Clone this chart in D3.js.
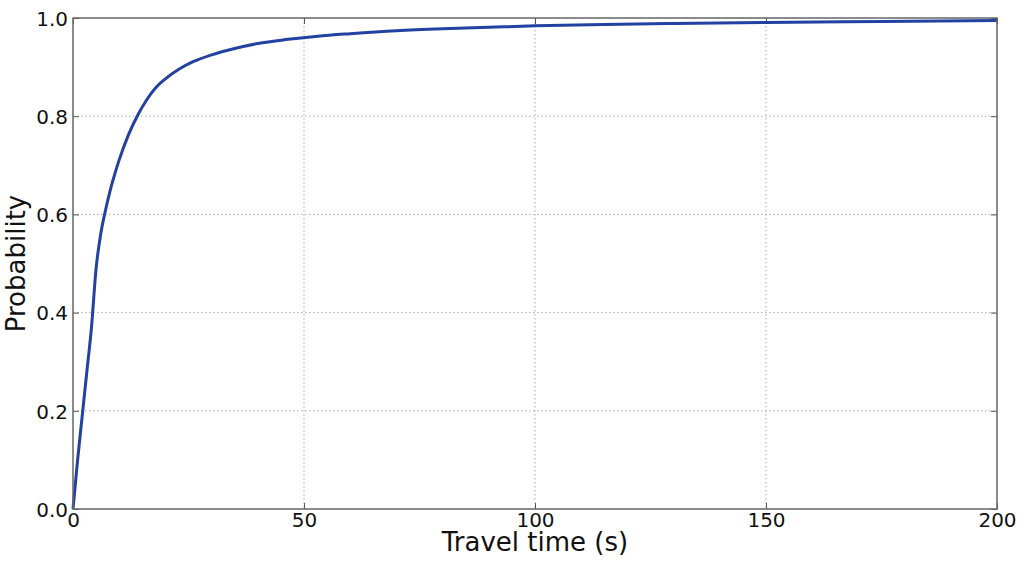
<!DOCTYPE html>
<html>
<head>
<meta charset="utf-8">
<script src="https://cdn.jsdelivr.net/npm/d3@7"></script>
<style>
  html, body { margin: 0; padding: 0; background: #fff; }
  svg { display: block; font-family: "DejaVu Sans", sans-serif; }
</style>
</head>
<body>
<svg id="chart" width="1024" height="567"></svg>
<script>
const travelTimes = [0, 1, 2, 3, 4, 5, 6, 7, 8, 9, 10, 12, 14, 16, 18, 20, 23, 26, 30, 35, 40, 46, 53, 60, 70, 80, 90, 100, 115, 130, 150, 175, 200];
const probabilities = [0, 0.1, 0.19, 0.28, 0.37, 0.49, 0.56, 0.607, 0.647, 0.681, 0.711, 0.762, 0.802, 0.834, 0.859, 0.876, 0.896, 0.911, 0.925, 0.938, 0.948, 0.956, 0.963, 0.968, 0.974, 0.978, 0.981, 0.984, 0.987, 0.989, 0.991, 0.993, 0.995];
const xTicks = [0, 50, 100, 150, 200];
const yTicks = [0.0, 0.2, 0.4, 0.6, 0.8, 1.0];
const xLabel = "Travel time (s)";
const yLabel = "Probability";

const svg = d3.select("#chart");
const m = { left: 73, top: 18, right: 27, bottom: 58 };
const W = 1024, H = 567;
const w = W - m.left - m.right, h = H - m.top - m.bottom;

const x = d3.scaleLinear().domain([0, 200]).range([0, w]);
const y = d3.scaleLinear().domain([0, 1]).range([h, 0]);

const g = svg.append("g").attr("transform", `translate(${m.left},${m.top})`);

// grid
g.append("g").selectAll("line").data(xTicks.filter(d => d > 0 && d < 200)).join("line")
  .attr("x1", d => x(d)).attr("x2", d => x(d)).attr("y1", 0).attr("y2", h)
  .attr("stroke", "#aaa").attr("stroke-width", 1).attr("stroke-dasharray", "1.5,2.5");
g.append("g").selectAll("line").data(yTicks.filter(d => d > 0 && d < 1)).join("line")
  .attr("y1", d => y(d)).attr("y2", d => y(d)).attr("x1", 0).attr("x2", w)
  .attr("stroke", "#aaa").attr("stroke-width", 1).attr("stroke-dasharray", "1.5,2.5");

// axes
const xAxis = g.append("g").attr("transform", `translate(0,${h})`)
  .call(d3.axisBottom(x).tickValues(xTicks).tickFormat(d3.format("d")).tickSizeInner(-6).tickSizeOuter(0).tickPadding(4));
const yAxis = g.append("g")
  .call(d3.axisLeft(y).tickValues(yTicks).tickFormat(d3.format(".1f")).tickSizeInner(-6).tickSizeOuter(0).tickPadding(5));
g.append("g").call(d3.axisTop(x).tickValues(xTicks).tickFormat("").tickSizeInner(-6).tickSizeOuter(0));
g.append("g").attr("transform", `translate(${w},0)`).call(d3.axisRight(y).tickValues(yTicks).tickFormat("").tickSizeInner(-6).tickSizeOuter(0));

svg.selectAll(".domain").remove();
svg.selectAll(".tick line").attr("stroke", "#555");
svg.selectAll(".tick text").attr("font-size", 20).attr("fill", "#111").attr("font-family", "DejaVu Sans, sans-serif");
xAxis.selectAll(".tick text").attr("dy", "0.71em");
yAxis.selectAll(".tick text").attr("dy", "0.36em");

// line
const line = d3.line()
  .x((d, i) => x(travelTimes[i]))
  .y(d => y(d))
  .curve(d3.curveMonotoneX);
g.append("path").datum(probabilities)
  .attr("d", line)
  .attr("fill", "none")
  .attr("stroke", "#2241a0")
  .attr("stroke-width", 3)
  .attr("stroke-linejoin", "round");

// frame
g.append("rect").attr("x", 0).attr("y", 0).attr("width", w).attr("height", h)
  .attr("fill", "none").attr("stroke", "#666").attr("stroke-width", 1.5);

// labels
svg.append("text").attr("x", m.left + w / 2).attr("y", 551)
  .attr("text-anchor", "middle").attr("font-size", 26).attr("fill", "#111").text(xLabel);
svg.append("text").attr("transform", `translate(25,${m.top + h / 2}) rotate(-90)`)
  .attr("text-anchor", "middle").attr("font-size", 26).attr("fill", "#111").text(yLabel);
</script>
</body>
</html>
